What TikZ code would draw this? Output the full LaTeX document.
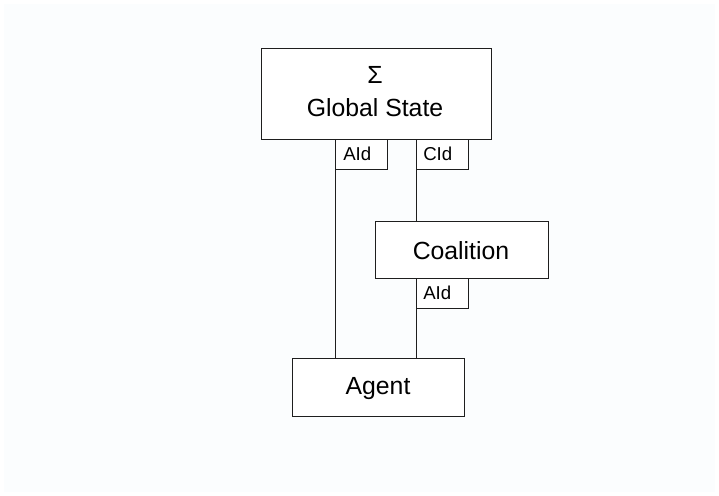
\documentclass[tikz,border=0pt]{standalone}
\usepackage{fontspec}
\setmainfont{Liberation Sans}
\definecolor{bgc}{RGB}{251,253,254}
\definecolor{linec}{RGB}{30,30,30}
\begin{document}
\begin{tikzpicture}[x=0.75pt,y=-0.75pt,
  box/.style={draw=linec,line width=0.75pt,fill=white,inner sep=0pt,anchor=north west},
  tag/.style={draw=linec,line width=0.75pt,fill=white,inner sep=0pt,anchor=north west,minimum width=39pt,minimum height=22.5pt},
  bigtxt/.style={font=\fontsize{18.6}{20}\selectfont,inner sep=0pt},
  smalltxt/.style={font=\fontsize{14}{16}\selectfont,inner sep=0pt,anchor=west},
  conn/.style={draw=linec,line width=0.75pt}]
\useasboundingbox (0,0) rectangle (719,496);
\fill[white] (0,0) rectangle (719,496);
\fill[bgc] (4,4) rectangle (715,492);
% boxes
\node[box,minimum width=172.5pt,minimum height=68.25pt] (gs) at (261,48) {};
\node[bigtxt] (sigma) at (375,75) {Σ};
\node[bigtxt] (gstext) at (375,108) {Global State};
\node[tag] (aid1) at (335,139) {};
\node[smalltxt] (aid1t) at (343,154) {AId};
\node[tag] (cid) at (416,139) {};
\node[smalltxt] (cidt) at (423,154) {CId};
\node[box,minimum width=129.75pt,minimum height=42.75pt] (coal) at (375,221) {};
\node[bigtxt] (coalt) at (461,251) {Coalition};
\node[tag] (aid2) at (416,278) {};
\node[smalltxt] (aid2t) at (423,293) {AId};
\node[box,minimum width=129pt,minimum height=43.5pt] (agent) at (292,358) {};
\node[bigtxt] (agentt) at (378,389) {Agent};
% connectors
\draw[conn] (aid1.south west) -- (aid1.south west |- agent.north);
\draw[conn] (cid.south west) -- (cid.south west |- coal.north);
\draw[conn] (aid2.south west) -- (aid2.south west |- agent.north);
\end{tikzpicture}
\end{document}
